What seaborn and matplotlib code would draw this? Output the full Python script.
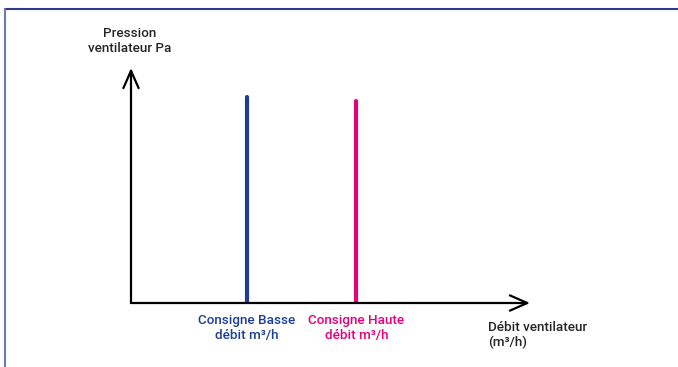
import pandas as pd
import seaborn as sns
import matplotlib.pyplot as plt
from matplotlib.lines import Line2D

# schematic values (arbitrary units, axes run 0..10)
consignes = ["Consigne Basse", "Consigne Haute"]
debits = [2.91, 5.65]
pressions = [8.77, 8.6]
couleurs = ["#1d3f93", "#e5007d"]
labels_bas = ["Consigne Basse\ndébit m³/h", "Consigne Haute\ndébit m³/h"]

sns.set_style("white")
plt.rcParams["font.family"] = ["Roboto", "Liberation Sans", "DejaVu Sans"]

df = pd.DataFrame({
    "consigne": consignes * 2,
    "debit": debits * 2,
    "pression": [0, 0] + pressions,
})

W, H = 678, 367
fig = plt.figure(figsize=(6.78, 3.67), dpi=100)
x0, y0, aw, ah = 131, 303, 399, 235
ax = fig.add_axes([x0 / W, (H - y0) / H, aw / W, ah / H])


def px(x, y):
    # pixel position (from top-left) -> axes fraction
    return (x - x0) / aw, (y0 - y) / ah


sns.lineplot(data=df, x="debit", y="pression", hue="consigne",
             palette=dict(zip(consignes, couleurs)), linewidth=3,
             legend=False, ax=ax, estimator=None, sort=False)
ax.set_xlim(0, 10)
ax.set_ylim(0, 10)
sns.despine(ax=ax, left=True, bottom=True)
ax.set_xticks([])
ax.set_yticks([])
ax.set_xlabel("")
ax.set_ylabel("")
ax.patch.set_alpha(0)

# axes arrows
arrow = dict(arrowstyle="->,head_length=1.25,head_width=0.55", lw=1.6, color="black",
             shrinkA=0, shrinkB=0)
ax.annotate("", xy=(1, 0), xytext=(0, 0), xycoords="axes fraction", arrowprops=arrow)
ax.annotate("", xy=(0, 1), xytext=(0, 0), xycoords="axes fraction", arrowprops=arrow)

fs = 9.7
ax.text(*px(130, 41), "Pression\nventilateur Pa", transform=ax.transAxes, ha="center",
        va="center", fontsize=fs, fontweight="medium", linespacing=1.15)
ax.text(*px(488, 335), "Débit ventilateur\n(m³/h)", transform=ax.transAxes,
        ha="left", va="center", fontsize=fs, fontweight="medium", linespacing=1.15)

for d, lab, c in zip(debits, labels_bas, couleurs):
    xa = d / 10
    ax.text(xa, px(0, 328)[1], lab, transform=ax.transAxes, ha="center", va="center",
            color=c, fontsize=fs, fontweight="medium", linespacing=1.12)

# frame of the figure
fig.add_artist(Line2D([4.5 / W, 1], [1 - 9 / H, 1 - 9 / H], color="#2e3a8c", lw=1.5))
fig.add_artist(Line2D([4.5 / W, 4.5 / W], [0, 1 - 9 / H], color="#6f77b5", lw=1.5))

fig.savefig("out.png", dpi=100)
